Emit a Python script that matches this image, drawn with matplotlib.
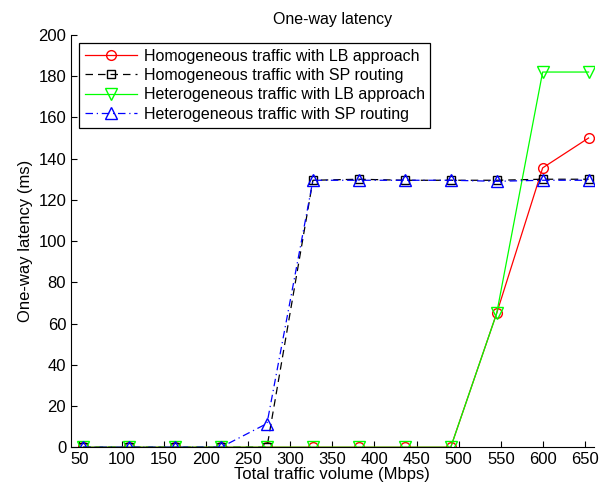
import matplotlib.pyplot as plt
import numpy as np

plt.rcParams['font.family'] = ['Liberation Sans', 'DejaVu Sans']

# traffic volume (Mbps)
traffic = [54.5, 109, 163.5, 218, 272.5, 327, 381.5, 436, 490.5, 545, 599.5, 654]

homo_lb = [0, 0, 0, 0, 0, 0, 0, 0, 0, 65, 135.5, 150]
homo_sp = [0, 0, 0, 0, 0, 129.5, 130, 129.5, 129.5, 129.5, 130, 130]
hetero_lb = [0, 0, 0, 0, 0, 0, 0, 0, 0, 65, 182, 182]
hetero_sp = [0, 0, 0, 0, 11.5, 129.5, 129.5, 129.5, 129.5, 129, 129.5, 129.5]

labels = ['Homogeneous traffic with LB approach',
          'Homogeneous traffic with SP routing',
          'Heterogeneous traffic with LB approach',
          'Heterogeneous traffic with SP routing']

fig = plt.figure(figsize=(6.12, 4.92), dpi=100)
ax = fig.add_axes([0.116, 0.091, 0.854, 0.838])

ax.plot(traffic, homo_lb, '-', color='r', marker='o', mfc='none',
        ms=7, lw=0.9, label=labels[0])
ax.plot(traffic, homo_sp, '--', color='k', marker='s', mfc='none',
        ms=6, lw=0.9, dashes=(6, 4), label=labels[1])
ax.plot(traffic, hetero_lb, '-', color=(0, 1, 0), marker='v', mfc='none',
        ms=8, lw=0.9, label=labels[2])
ax.plot(traffic, hetero_sp, '-.', color='b', marker='^', mfc='none',
        ms=8, lw=0.9, dashes=(6, 3, 1, 3), label=labels[3])

ax.set_xlim(40, 660)
ax.set_ylim(0, 200)
ax.set_xticks(np.arange(50, 651, 50))
ax.set_yticks(np.arange(0, 201, 20))
ax.tick_params(direction='in', labelsize=12, length=4, width=0.8,
               top=False, right=False)
for s in ['top', 'right']:
    ax.spines[s].set_visible(False)

ax.set_xlabel('Total traffic volume (Mbps)', fontsize=12, labelpad=0)
ax.set_ylabel('One-way latency (ms)', fontsize=12, labelpad=4)
ax.set_title('One-way latency', fontsize=11.5, pad=8)

leg = ax.legend(loc='upper left', fontsize=11.5, handlelength=3.3,
                fancybox=False, edgecolor='k', framealpha=1,
                borderpad=0.35, labelspacing=0.28, handletextpad=0.4,
                borderaxespad=0.5)
leg.get_frame().set_linewidth(0.9)

fig.savefig('out.png', dpi=100)
